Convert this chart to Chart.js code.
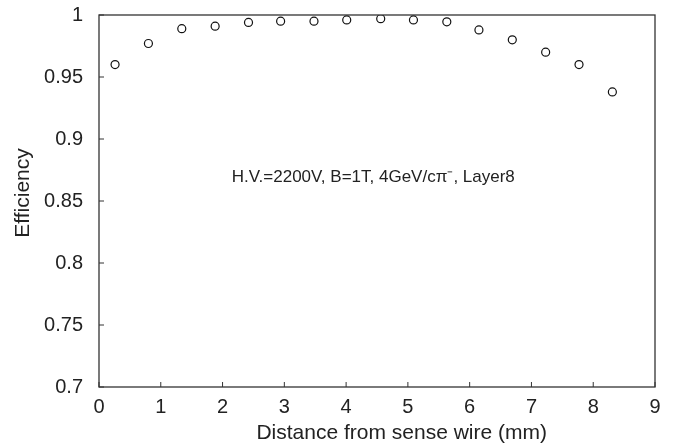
<!DOCTYPE html>
<html>
<head>
<meta charset="utf-8">
<script src="https://cdn.jsdelivr.net/npm/chart.js@4"></script>
<style>
html,body{margin:0;padding:0;background:#fff;}
#wrap{width:675px;height:446px;}
</style>
</head>
<body>
<div id="wrap"><canvas id="c" width="675" height="446"></canvas></div>
<script>
const distance = [0.26, 0.80, 1.34, 1.88, 2.42, 2.94, 3.48, 4.01, 4.56, 5.09, 5.63, 6.15, 6.69, 7.23, 7.77, 8.31];
const efficiency = [0.960, 0.977, 0.989, 0.991, 0.994, 0.995, 0.995, 0.996, 0.997, 0.996, 0.9945, 0.988, 0.980, 0.970, 0.960, 0.938];
const xTickLabels = ['0','1','2','3','4','5','6','7','8','9'];
const yTickLabels = ['0.7','0.75','0.8','0.85','0.9','0.95','1'];
const xTitle = 'Distance from sense wire (mm)';
const yTitle = 'Efficiency';
const annotationText = 'H.V.=2200V, B=1T, 4GeV/c\u03C0\u207B, Layer8';
const annotationPos = {x: 2.15, y: 0.869};

const FONT = '"Liberation Sans", Arial, Helvetica, sans-serif';
const TEXT = '#222';
const AXIS = '#333';

const framePlugin = {
  id: 'frame',
  afterDatasetsDraw(chart) {
    const {ctx, chartArea: a, scales} = chart;
    ctx.save();
    ctx.strokeStyle = AXIS;
    ctx.lineWidth = 1.3;
    ctx.strokeRect(a.left, a.top, a.right - a.left, a.bottom - a.top);
    ctx.lineWidth = 1;
    ctx.beginPath();
    scales.x.ticks.forEach(t => {
      const px = scales.x.getPixelForValue(t.value);
      ctx.moveTo(px, a.bottom); ctx.lineTo(px, a.bottom - 5);
    });
    scales.y.ticks.forEach(t => {
      const py = scales.y.getPixelForValue(t.value);
      ctx.moveTo(a.left, py); ctx.lineTo(a.left + 5, py);
    });
    ctx.stroke();
    ctx.fillStyle = TEXT;
    ctx.textBaseline = 'middle';
    // annotation
    ctx.font = '17px ' + FONT;
    ctx.textAlign = 'left';
    ctx.fillText(annotationText, scales.x.getPixelForValue(annotationPos.x), scales.y.getPixelForValue(annotationPos.y));
    // axis titles
    ctx.font = '21px ' + FONT;
    ctx.textAlign = 'center';
    ctx.fillText(xTitle, scales.x.getPixelForValue(4.9), 433);
    ctx.translate(23, scales.y.getPixelForValue(0.8565));
    ctx.rotate(-Math.PI / 2);
    ctx.fillText(yTitle, 0, 0);
    ctx.restore();
  }
};

new Chart(document.getElementById('c'), {
  type: 'scatter',
  data: {
    datasets: [{
      data: distance.map((x, i) => ({x, y: efficiency[i]})),
      pointStyle: 'circle',
      pointRadius: 4,
      pointBorderWidth: 1.2,
      pointBorderColor: '#111',
      pointBackgroundColor: 'rgba(255,255,255,0)',
      showLine: false
    }]
  },
  options: {
    responsive: false,
    animation: false,
    events: [],
    layout: {padding: {left: 0, right: 20, top: 15, bottom: 0}},
    plugins: {legend: {display: false}, tooltip: {enabled: false}},
    scales: {
      x: {
        type: 'linear', min: 0, max: 9,
        grid: {display: false, drawTicks: false},
        border: {display: false},
        ticks: {stepSize: 1, padding: 8, color: TEXT, font: {family: FONT, size: 20},
          maxRotation: 0,
          callback: (v, i) => xTickLabels[i]},
        title: {display: false},
        afterFit: s => { s.height = 59; s.paddingLeft = 0; s.paddingRight = 0; }
      },
      y: {
        type: 'linear', min: 0.7, max: 1,
        grid: {display: false, drawTicks: false},
        border: {display: false},
        ticks: {stepSize: 0.05, padding: 16, color: TEXT, font: {family: FONT, size: 20},
          callback: (v, i) => yTickLabels[i]},
        title: {display: false},
        afterFit: s => { s.width = 99; s.paddingTop = 0; s.paddingBottom = 0; }
      }
    }
  },
  plugins: [framePlugin]
});
</script>
</body>
</html>
